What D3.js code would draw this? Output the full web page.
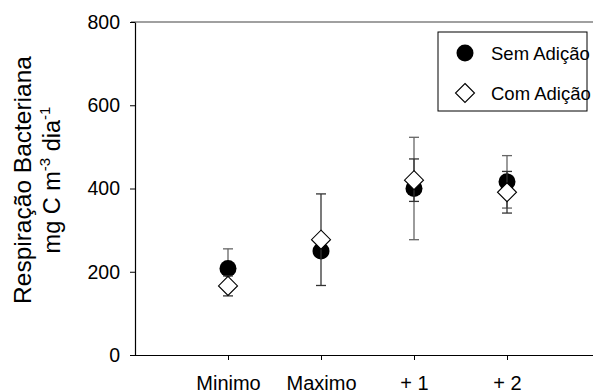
<!DOCTYPE html>
<html>
<head>
<meta charset="utf-8">
<script src="https://cdn.jsdelivr.net/npm/d3@7"></script>
<style>
  body { margin: 0; background: #fff; }
  svg { font-family: "Liberation Sans", Arial, sans-serif; }
</style>
</head>
<body>
<svg id="canvas" width="593" height="392"></svg>
<script>
// categories on the x axis
const categories = ["Minimo", "Maximo", "+ 1", "+ 2"];
// mean and error (±) for each series
const semMean = [208, 250, 400, 416];
const semErr = [47, 15, 123, 63];
const comMean = [166, 277, 420, 391];
const comErr = [24, 110, 51, 50];
const yTicks = [0, 200, 400, 600, 800];
const seriesNames = ["Sem Adição", "Com Adição"];

const svg = d3.select("svg#canvas");
const width = +svg.attr("width");

const x = d3.scaleLinear().domain([0, 5]).range([135, 600]);
const y = d3.scaleLinear().domain([0, 800]).range([355, 22]);

// top frame line (grey)
svg.append("line")
  .attr("x1", 131).attr("x2", width)
  .attr("y1", y(800)).attr("y2", y(800))
  .attr("stroke", "#808080").attr("stroke-width", 1.5);

// y axis
const yAxis = svg.append("g")
  .attr("transform", `translate(${x(0)},0)`)
  .call(d3.axisLeft(y).tickValues(yTicks).tickSize(5).tickPadding(10).tickSizeOuter(0));
yAxis.select(".domain").attr("stroke", "#000").attr("stroke-width", 1.2);
yAxis.selectAll(".tick line").attr("stroke", "#000");
yAxis.selectAll("text").attr("font-size", 19.5).attr("fill", "#000");

// x axis
const xAxis = svg.append("g")
  .attr("transform", `translate(0,${y(0)})`)
  .call(d3.axisBottom(x).tickValues([1, 2, 3, 4]).tickFormat((d) => categories[d - 1])
    .tickSize(5).tickPadding(16).tickSizeOuter(0));
xAxis.select(".domain").attr("d", `M${x(0)},0.5H${width}`).attr("stroke", "#000").attr("stroke-width", 1.2);
xAxis.selectAll(".tick line").attr("stroke", "#000");
xAxis.selectAll("text").attr("font-size", 20).attr("fill", "#000");

// y axis title, two lines
svg.append("text")
  .attr("transform", "translate(31,180) rotate(-90)")
  .attr("text-anchor", "middle")
  .attr("font-size", 24.5)
  .text("Respiração Bacteriana");
const line2 = svg.append("text")
  .attr("transform", "translate(60,180) rotate(-90)")
  .attr("text-anchor", "middle")
  .attr("font-size", 23.5);
line2.append("tspan").text("mg C m");
line2.append("tspan").attr("font-size", 15).attr("dy", -10).text("-3");
line2.append("tspan").attr("dy", 10).text(" dia");
line2.append("tspan").attr("font-size", 15).attr("dy", -10).text("-1");

const capW = 5;
function errorBars(means, errs, color) {
  const g = svg.append("g").attr("stroke", color).attr("stroke-width", 1.3);
  means.forEach((m, i) => {
    const cx = x(i + 1);
    const top = y(m + errs[i]);
    const bot = y(m - errs[i]);
    g.append("line").attr("x1", cx).attr("x2", cx).attr("y1", top).attr("y2", bot);
    g.append("line").attr("x1", cx - capW).attr("x2", cx + capW).attr("y1", top).attr("y2", top);
    g.append("line").attr("x1", cx - capW).attr("x2", cx + capW).attr("y1", bot).attr("y2", bot);
  });
}

const diamond = (s) => `M0,${-s}L${s},0L0,${s}L${-s},0Z`;

errorBars(semMean, semErr, "#666");
svg.append("g").selectAll("circle")
  .data(semMean)
  .enter()
  .append("circle")
  .attr("cx", (d, i) => x(i + 1))
  .attr("cy", (d) => y(d))
  .attr("r", 8.5)
  .attr("fill", "#000");

errorBars(comMean, comErr, "#333");
svg.append("g").selectAll("path")
  .data(comMean)
  .enter()
  .append("path")
  .attr("transform", (d, i) => `translate(${x(i + 1)},${y(d)})`)
  .attr("d", diamond(9.5))
  .attr("fill", "#fff")
  .attr("stroke", "#000")
  .attr("stroke-width", 1.1);

// legend
const lg = svg.append("g");
lg.append("rect")
  .attr("x", 438).attr("y", 32).attr("width", 149).attr("height", 79)
  .attr("fill", "#fff").attr("stroke", "#000").attr("stroke-width", 1);
lg.append("circle").attr("cx", 465).attr("cy", 53).attr("r", 8.5).attr("fill", "#000");
lg.append("path").attr("transform", "translate(465,93)").attr("d", diamond(9.5))
  .attr("fill", "#fff").attr("stroke", "#000").attr("stroke-width", 1.1);
lg.selectAll("text.lab")
  .data(seriesNames)
  .enter()
  .append("text")
  .attr("class", "lab")
  .attr("x", 491)
  .attr("y", (d, i) => 59.5 + i * 40)
  .attr("font-size", 18.5)
  .text((d) => d);
</script>
</body>
</html>
